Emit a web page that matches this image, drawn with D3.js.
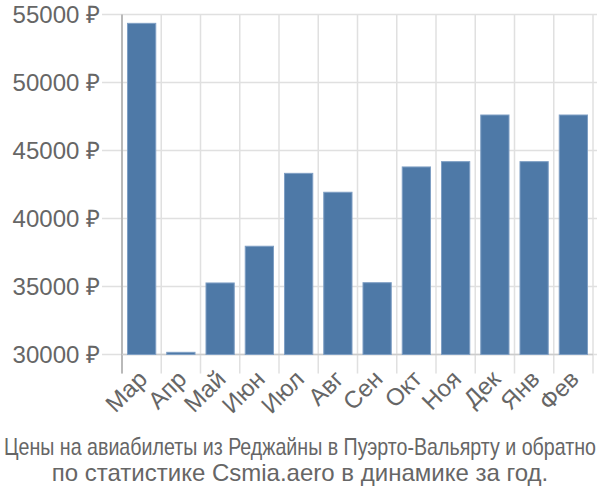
<!DOCTYPE html>
<html>
<head>
<meta charset="utf-8">
<script src="https://cdn.jsdelivr.net/npm/d3@7"></script>
<style>
  body { margin: 0; background: #fff; }
  text { font-family: "Liberation Sans", Arial, sans-serif; }
</style>
</head>
<body>
<svg id="chart" width="600" height="500"></svg>
<script>
// months and prices
const months = ["Мар", "Апр", "Май", "Июн", "Июл", "Авг", "Сен", "Окт", "Ноя", "Дек", "Янв", "Фев"];
const prices = [54350, 30160, 35260, 37960, 43320, 41930, 35280, 43790, 44180, 47610, 44180, 47610];
const yTicks = [30000, 35000, 40000, 45000, 50000, 55000];
const titleLines = [
  "Цены на авиабилеты из Реджайны в Пуэрто-Вальярту и обратно",
  "по статистике Csmia.aero в динамике за год."
];

var svg = d3.select("#chart");
var plotLeft = 122, plotRight = 593, plotTop = 14.5, plotBottom = 354.5;

var x = d3.scaleBand()
  .domain(months)
  .range([plotLeft, plotRight])
  .paddingInner(0.28)
  .paddingOuter(0.14);

var y = d3.scaleLinear()
  .domain([30000, 55000])
  .range([plotBottom, plotTop]);

var edge = x.step() * 0.14;

// horizontal grid
svg.append("g")
  .selectAll("line")
  .data(yTicks)
  .enter()
  .append("line")
  .attr("x1", plotLeft - 20)
  .attr("x2", 597)
  .attr("y1", d => y(d))
  .attr("y2", d => y(d))
  .attr("stroke", "#e0e0e0")
  .attr("stroke-width", 1.5);

// vertical grid on band edges
var edges = months.map(m => x(m) - edge).concat([plotRight]);
svg.append("g")
  .selectAll("line")
  .data(edges)
  .enter()
  .append("line")
  .attr("x1", d => d)
  .attr("x2", d => d)
  .attr("y1", plotTop)
  .attr("y2", plotBottom + 19)
  .attr("stroke", "#e0e0e0")
  .attr("stroke-width", 1.5);

// left axis line
svg.append("line")
  .attr("x1", plotLeft).attr("x2", plotLeft)
  .attr("y1", plotTop).attr("y2", plotBottom + 19)
  .attr("stroke", "#aaaaaa")
  .attr("stroke-width", 1.5);

// bottom axis line
svg.append("line")
  .attr("x1", plotLeft).attr("x2", plotRight)
  .attr("y1", plotBottom).attr("y2", plotBottom)
  .attr("stroke", "#cccccc")
  .attr("stroke-width", 1.5);

// bars
svg.append("g")
  .selectAll("rect")
  .data(prices)
  .enter()
  .append("rect")
  .attr("x", (d, i) => x(months[i]))
  .attr("width", x.bandwidth())
  .attr("y", d => y(d))
  .attr("height", d => plotBottom - y(d))
  .attr("fill", "#4e79a7")
  .attr("stroke", "#7f9fc4")
  .attr("stroke-width", 1);

// y labels
svg.append("g")
  .selectAll("text")
  .data(yTicks)
  .enter()
  .append("text")
  .attr("x", 100)
  .attr("y", d => y(d))
  .attr("dy", "0.35em")
  .attr("text-anchor", "end")
  .attr("fill", "#666")
  .style("font-size", "24px")
  .text(d => d + " ₽");

// x labels
svg.append("g")
  .selectAll("text")
  .data(months)
  .enter()
  .append("text")
  .attr("text-anchor", "end")
  .attr("transform", d => "translate(" + (x(d) + x.bandwidth() / 2 + 7) + "," + (plotBottom + 26) + ") rotate(-45)")
  .attr("fill", "#666")
  .style("font-size", "24px")
  .text(d => d);

// title
svg.append("text")
  .attr("x", 300)
  .attr("y", 455)
  .attr("text-anchor", "middle")
  .attr("fill", "#666")
  .attr("textLength", 592)
  .attr("lengthAdjust", "spacingAndGlyphs")
  .style("font-size", "24px")
  .text(titleLines[0]);

svg.append("text")
  .attr("x", 300)
  .attr("y", 481)
  .attr("text-anchor", "middle")
  .attr("fill", "#666")
  .style("font-size", "24px")
  .text(titleLines[1]);
</script>
</body>
</html>
